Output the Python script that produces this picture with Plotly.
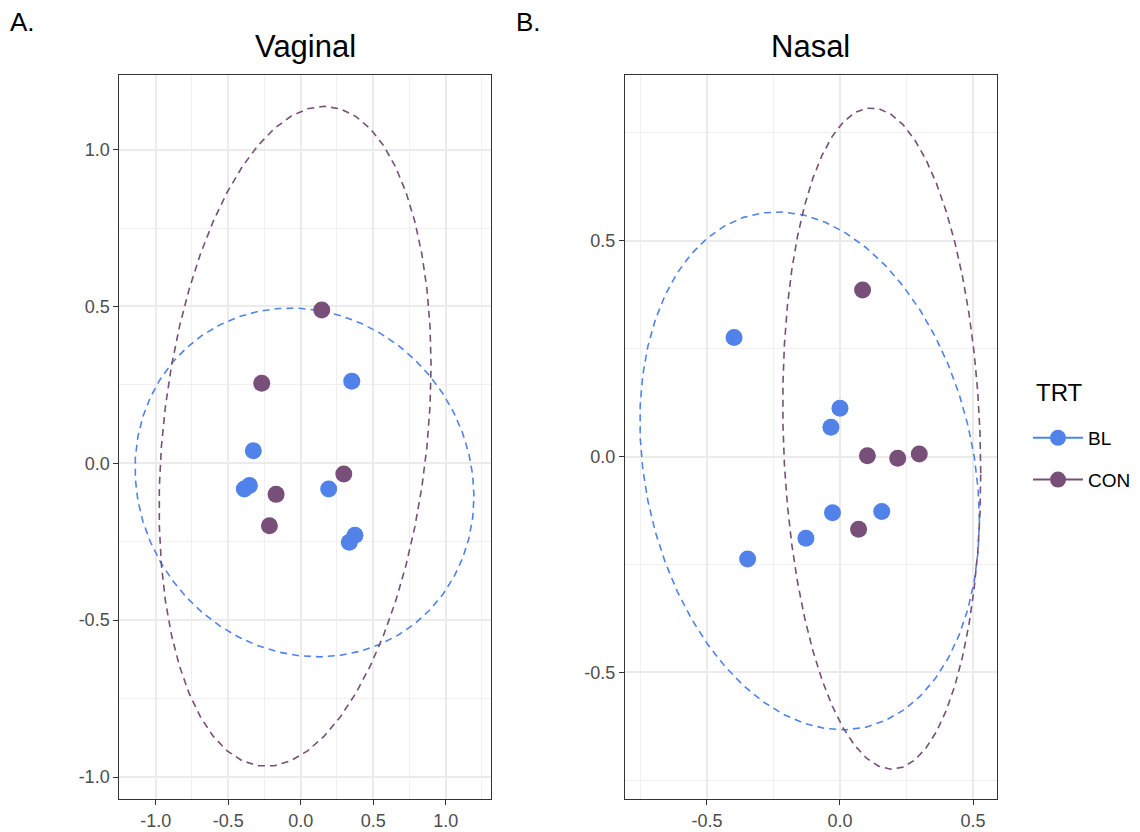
import numpy as np
import plotly.graph_objects as go

# ---- data ----
groups = ["BL", "CON"]
vag_bl_x = [-0.327, -0.389, -0.354, 0.193, 0.374, 0.335, 0.352]
vag_bl_y = [0.040, -0.082, -0.071, -0.082, -0.229, -0.252, 0.262]
vag_con_x = [0.145, -0.269, -0.170, -0.216, 0.297]
vag_con_y = [0.489, 0.255, -0.099, -0.199, -0.034]
nas_bl_x = [-0.398, 0.000, -0.034, -0.028, 0.157, -0.128, -0.347]
nas_bl_y = [0.276, 0.112, 0.068, -0.130, -0.127, -0.189, -0.237]
nas_con_x = [0.085, 0.103, 0.217, 0.298, 0.070]
nas_con_y = [0.386, 0.002, -0.004, 0.006, -0.168]

# 95% ellipse shapes:
# centre x, centre y, half-width, y-shift at the x-extremes, half-height
vag_bl_ell = [0.026, -0.061, 1.169, -0.045, 0.556]
vag_con_ell = [-0.039, 0.086, 0.938, 0.225, 1.052]
nas_bl_ell = [-0.114, -0.033, 0.638, -0.115, 0.600]
nas_con_ell = [0.157, 0.042, 0.372, -0.080, 0.766]

colors = {"BL": "#5082E9", "CON": "#774F78"}


def ellipse_path(params, segments=51):
    cx, cy, a, b, h = params
    c = np.sqrt(max(h * h - b * b, 0.0))
    t = np.arange(segments + 1) * 2 * np.pi / segments
    return cx + a * np.cos(t), cy + b * np.cos(t) + c * np.sin(t)


fig = go.Figure()

panels = [
    ("x", "y", {"BL": (vag_bl_x, vag_bl_y, vag_bl_ell), "CON": (vag_con_x, vag_con_y, vag_con_ell)}),
    ("x2", "y2", {"BL": (nas_bl_x, nas_bl_y, nas_bl_ell), "CON": (nas_con_x, nas_con_y, nas_con_ell)}),
]

for xa, ya, d in panels:
    for g in groups:
        ex, ey = ellipse_path(d[g][2])
        fig.add_trace(go.Scatter(x=ex, y=ey, mode="lines", xaxis=xa, yaxis=ya,
                                 line=dict(color=colors[g], width=1.6, dash="7px,5px"),
                                 showlegend=False, hoverinfo="skip"))
    for g in groups:
        fig.add_trace(go.Scatter(x=d[g][0], y=d[g][1], mode="markers", xaxis=xa, yaxis=ya,
                                 marker=dict(color=colors[g], size=17),
                                 showlegend=False, name=g))

# legend keys
for g in groups:
    fig.add_trace(go.Scatter(x=[None], y=[None], mode="lines+markers", name=g,
                             legendgroup=g,
                             line=dict(color=colors[g], width=2),
                             marker=dict(color=colors[g], size=17),
                             xaxis="x", yaxis="y"))

grid = "#EBEBEB"
tickfont = dict(family="Liberation Sans, Arial", size=18, color="#4D4D4D")
common = dict(showgrid=True, gridcolor=grid, gridwidth=1.6, zeroline=False,
              showline=True, linecolor="#333333", linewidth=1.2, mirror=True,
              ticks="outside", ticklen=5, tickcolor="#333333", tickwidth=1.2,
              tickfont=tickfont)
minor = dict(dtick=0.25, tick0=0.25, showgrid=True, gridcolor="#F0F0F0", gridwidth=0.9, ticks="")

fig.update_layout(
    width=1140, height=832,
    margin=dict(l=0, r=0, t=0, b=0),
    paper_bgcolor="white", plot_bgcolor="white",
    font=dict(family="Liberation Sans, Arial", color="#000000"),
    xaxis=dict(domain=[0.1047, 0.4304], range=[-1.251, 1.310], tickvals=[-1.0, -0.5, 0.0, 0.5, 1.0],
               ticktext=["-1.0", "-0.5", "0.0", "0.5", "1.0"], minor=minor,
               anchor="y", **common),
    yaxis=dict(domain=[0.0397, 0.9099], range=[-1.070, 1.238], tickvals=[-1.0, -0.5, 0.0, 0.5, 1.0],
               ticktext=["-1.0", "-0.5", "0.0", "0.5", "1.0"], minor=minor,
               anchor="x", **common),
    xaxis2=dict(domain=[0.5482, 0.8743], range=[-0.808, 0.589], tickvals=[-0.5, 0.0, 0.5],
                ticktext=["-0.5", "0.0", "0.5"], minor=minor,
                anchor="y2", **common),
    yaxis2=dict(domain=[0.0397, 0.9099], range=[-0.793, 0.884], tickvals=[-0.5, 0.0, 0.5],
                ticktext=["-0.5", "0.0", "0.5"], minor=minor,
                anchor="x2", **common),
    legend=dict(x=1028 / 1140, y=1 - 419 / 832, xanchor="left", yanchor="top",
                font=dict(size=19, color="#000000"), tracegroupgap=14, itemwidth=50),
    annotations=[
        dict(text="Vaginal", x=(0.1047 + 0.4304) / 2, y=1 - 47 / 832, xref="paper", yref="paper",
             showarrow=False, font=dict(size=31, color="#000000"), xanchor="center", yanchor="middle"),
        dict(text="Nasal", x=(0.5482 + 0.8743) / 2, y=1 - 47 / 832, xref="paper", yref="paper",
             showarrow=False, font=dict(size=31, color="#000000"), xanchor="center", yanchor="middle"),
        dict(text="A.", x=8 / 1140, y=1 - 22 / 832, xref="paper", yref="paper",
             showarrow=False, font=dict(size=26, color="#000000"), xanchor="left", yanchor="middle"),
        dict(text="B.", x=514 / 1140, y=1 - 22 / 832, xref="paper", yref="paper",
             showarrow=False, font=dict(size=26, color="#000000"), xanchor="left", yanchor="middle"),
        dict(text="TRT", x=1034 / 1140, y=1 - 393 / 832, xref="paper", yref="paper",
             showarrow=False, font=dict(size=24, color="#000000"), xanchor="left", yanchor="middle"),
    ],
)

fig.write_html("out.html")
